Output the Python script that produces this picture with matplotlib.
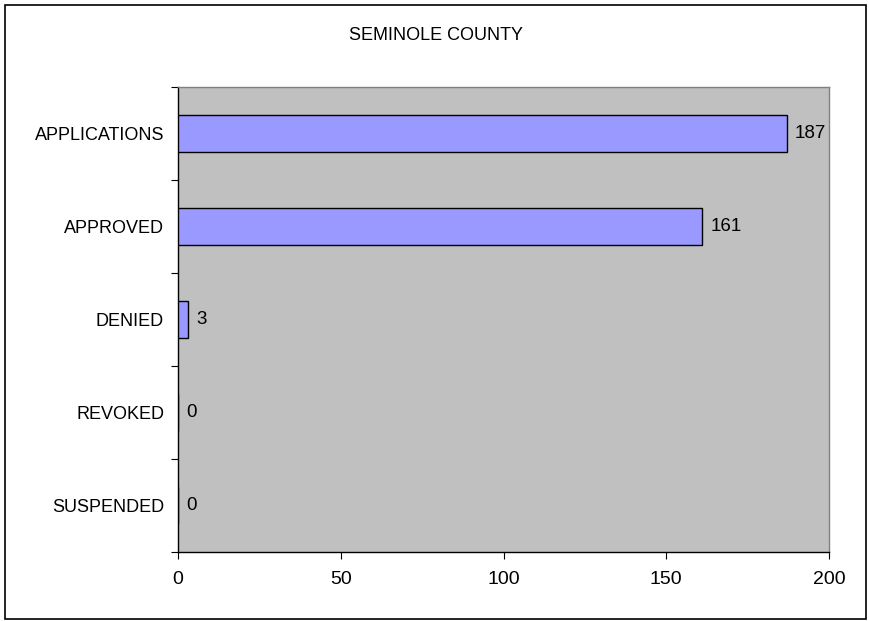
import matplotlib.pyplot as plt
from matplotlib.patches import Rectangle

categories = ["APPLICATIONS", "APPROVED", "DENIED", "REVOKED", "SUSPENDED"]
values = [187, 161, 3, 0, 0]
x_ticks = [0, 50, 100, 150, 200]

plt.rcParams["font.family"] = ["Liberation Sans", "DejaVu Sans"]

fig = plt.figure(figsize=(8.69, 6.21), dpi=100)
ax = fig.add_axes([178 / 869, 1 - 552 / 621, (829 - 178) / 869, (552 - 87) / 621])

# outer frame around the chart
fig.patches.append(Rectangle((5 / 869, 2 / 621), 861 / 869, 614 / 621,
                             transform=fig.transFigure, fill=False,
                             edgecolor="black", linewidth=1.2))

ypos = list(range(len(categories)))[::-1]
ax.barh(ypos, values, height=0.4, color="#9999FF", edgecolor="black", linewidth=1.0, zorder=3)
for y, v in zip(ypos, values):
    ax.text(v + 2.5, y, str(v), va="center", ha="left", fontsize=13.5)

ax.set_facecolor("#C0C0C0")
ax.set_xlim(0, 200)
ax.set_ylim(-0.5, len(categories) - 0.5)
ax.set_xticks(x_ticks)
ax.set_xticklabels([str(t) for t in x_ticks], fontsize=14)
ax.set_yticks(ypos)
ax.set_yticklabels(categories, fontsize=13)
ax.set_yticks([i - 0.5 for i in range(len(categories) + 1)], minor=True)
ax.tick_params(axis="y", which="major", length=0, pad=10)
ax.tick_params(axis="y", which="minor", length=5, direction="out", width=0.8)
ax.tick_params(axis="x", length=5, direction="out", width=0.8, pad=9)

ax.spines["left"].set_color("black")
ax.spines["bottom"].set_color("black")
ax.spines["top"].set_color("#808080")
ax.spines["right"].set_color("#808080")
for s in ax.spines.values():
    s.set_linewidth(1.0)

fig.text(0.502, 1 - 36 / 621, "SEMINOLE COUNTY", ha="center", va="center", fontsize=13)

fig.savefig("out.png", dpi=100)
